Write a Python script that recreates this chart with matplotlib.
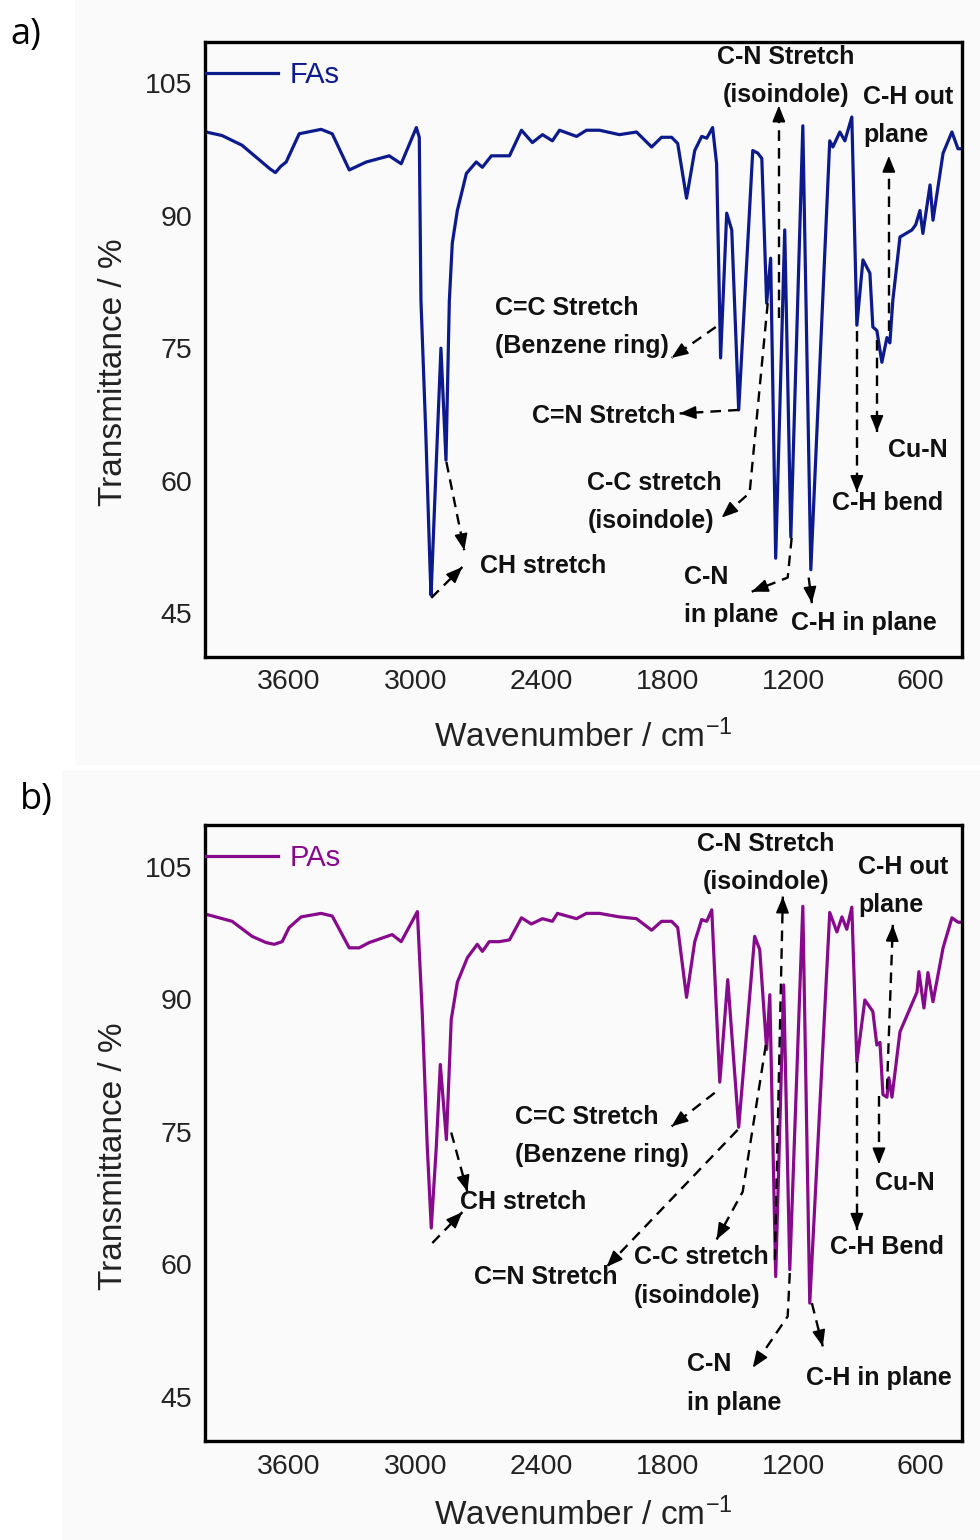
import numpy as np
import matplotlib
matplotlib.use('Agg')
import matplotlib.pyplot as plt
from matplotlib.patches import Rectangle

plt.rcParams['font.family'] = ['Liberation Sans', 'DejaVu Sans']
plt.rcParams['mathtext.default'] = 'regular'

# FTIR spectrum of FAs (wavenumber / cm-1, transmittance / %)
wn_fas = [3995, 3919, 3824, 3690, 3665, 3640, 3614, 3552, 3448, 3395, 3314, 3233, 3124, 3067,
          2995, 2981, 2973, 2950, 2930, 2925, 2901, 2878, 2854, 2838, 2824, 2800, 2757, 2710,
          2681, 2638, 2552, 2495, 2443, 2395, 2348, 2314, 2233, 2186, 2124, 2029, 1948, 1876,
          1829, 1781, 1752, 1710, 1671, 1638, 1614, 1586, 1567, 1548, 1519, 1495, 1462, 1395,
          1371, 1352, 1329, 1310, 1286, 1243, 1214, 1157, 1119, 1029, 1014, 981, 957, 924,
          900, 871, 838, 824, 805, 781, 757, 743, 729, 695, 638, 620, 600, 586, 552, 538,
          490, 448, 419, 400]
t_fas = [99.5, 99.1, 98.0, 95.3, 94.9, 95.6, 96.1, 99.3, 99.8, 99.3, 95.2, 96.1, 96.8, 95.9,
         100.0, 98.9, 80.4, 65.4, 50.2, 47.0, 61.5, 75.0, 62.3, 80.4, 86.9, 90.6, 94.8, 96.1,
         95.5, 96.8, 96.8, 99.7, 98.3, 99.2, 98.5, 99.7, 99.0, 99.7, 99.7, 99.2, 99.5, 97.8,
         98.9, 98.9, 98.2, 92.0, 97.4, 99.0, 98.8, 100.0, 95.9, 73.9, 90.3, 88.4, 68.0, 97.4,
         97.1, 96.5, 80.1, 85.2, 51.2, 88.4, 53.6, 100.2, 49.9, 98.5, 97.8, 99.5, 98.5, 101.2,
         77.6, 85.0, 83.5, 77.4, 77.0, 73.4, 76.2, 75.6, 80.4, 87.6, 88.4, 89.0, 90.6, 88.0,
         93.5, 89.5, 97.1, 99.5, 97.6, 97.6]

# FTIR spectrum of PAs
wn_pas = [3995, 3871, 3776, 3710, 3671, 3633, 3600, 3543, 3448, 3395, 3314, 3267, 3219, 3110,
          3067, 2990, 2967, 2943, 2924, 2900, 2881, 2852, 2829, 2800, 2752, 2705, 2681, 2648,
          2600, 2552, 2495, 2448, 2395, 2348, 2324, 2233, 2186, 2124, 2029, 1948, 1876, 1829,
          1781, 1752, 1710, 1671, 1638, 1614, 1590, 1552, 1514, 1462, 1386, 1362, 1329, 1314,
          1286, 1248, 1219, 1157, 1124, 1029, 995, 971, 948, 924, 900, 862, 824, 805, 790,
          776, 757, 748, 733, 695, 614, 605, 581, 562, 538, 490, 448, 419, 400]
t_pas = [99.6, 98.8, 97.1, 96.4, 96.2, 96.5, 98.1, 99.3, 99.7, 99.4, 95.8, 95.8, 96.4, 97.3,
         96.5, 99.9, 88.5, 73.3, 64.1, 73.3, 82.6, 74.1, 87.7, 91.9, 94.7, 96.2, 95.4, 96.5,
         96.5, 96.7, 99.2, 98.5, 99.1, 98.8, 99.7, 99.1, 99.7, 99.7, 99.3, 99.1, 97.8, 98.8,
         98.8, 98.1, 90.2, 96.5, 99.0, 98.8, 100.1, 80.6, 92.2, 75.5, 97.1, 95.6, 84.3, 90.5,
         58.6, 91.6, 59.4, 100.5, 55.6, 99.8, 97.6, 99.3, 97.9, 100.4, 82.9, 89.9, 88.6, 84.8, 85.1,
         79.2, 78.9, 81.1, 78.9, 86.3, 90.8, 93.1, 89.0, 93.0, 89.7, 95.8, 99.2, 98.7, 98.7]

x_ticks = [3600, 3000, 2400, 1800, 1200, 600]
y_ticks = [45, 60, 75, 90, 105]

# band assignments: text, text anchor (wn, T), alignment, arrow paths (tip last)
notes_fas = [
    ('C-N Stretch\n(isoindole)', (1238, 105.85), 'center', [[(1271, 78.4), (1271, 102.5)]]),
    ('C-H out\nplane', (871, 101.3), 'left', [[(748, 77.0), (748, 96.8)]]),
    ('Cu-N', (752, 63.5), 'left', [[(805, 75.9), (805, 65.5)]]),
    ('C-H bend', (1019, 57.5), 'left', [[(900, 77.0), (900, 58.7)]]),
    ('C-H in plane', (1214, 43.9), 'left', [[(1129, 49.0), (1114, 46.1)]]),
    ('C-N\nin plane', (1724, 46.9), 'left', [[(1210, 53.5), (1229, 49.0), (1400, 47.4)]]),
    ('C-C stretch\n(isoindole)', (2181, 57.6), 'left', [[(1324, 80.1), (1410, 58.6), (1543, 55.8)]]),
    ('C=N Stretch', (2443, 67.3), 'left', [[(1462, 68.0), (1743, 67.6)]]),
    ('C=C Stretch\n(Benzene ring)', (2619, 77.4), 'left', [[(1571, 77.4), (1781, 73.9)]]),
    ('CH stretch', (2690, 50.3), 'left', [[(2852, 62.1), (2767, 52.1)], [(2924, 46.7), (2776, 50.2)]]),
]
notes_pas = [
    ('C-N Stretch\n(isoindole)', (1333, 105.4), 'center', [[(1290, 60.5), (1252, 101.6)]]),
    ('C-H out\nplane', (895, 102.8), 'left', [[(757, 79.8), (729, 98.4)]]),
    ('Cu-N', (814, 69.2), 'left', [[(795, 79.0), (795, 71.3)]]),
    ('C-H Bend', (1029, 61.9), 'left', [[(900, 82.9), (900, 63.9)]]),
    ('C-H in plane', (1143, 47.1), 'left', [[(1114, 55.6), (1062, 50.7)]]),
    ('C-N\nin plane', (1710, 46.5), 'left', [[(1219, 59.0), (1229, 54.1), (1395, 48.3)]]),
    ('C-C stretch\n(isoindole)', (1962, 58.6), 'left', [[(1333, 84.8), (1443, 68.2), (1567, 62.8)]]),
    ('C=N Stretch', (2719, 58.5), 'left', [[(1467, 75.2), (2090, 59.7)]]),
    ('C=C Stretch\n(Benzene ring)', (2524, 74.5), 'left', [[(1576, 79.4), (1781, 75.6)]]),
    ('CH stretch', (2786, 67.0), 'left', [[(2829, 74.9), (2752, 68.2)], [(2919, 62.4), (2776, 65.9)]]),
]

fig = plt.figure(figsize=(9.8, 15.4), dpi=100)
# faint grey page behind each panel
fig.patches.append(Rectangle((75/980, 775/1540), 905/980, 765/1540, transform=fig.transFigure,
                             facecolor='#fafafa', edgecolor='none', zorder=-10))
fig.patches.append(Rectangle((62/980, 0), 918/980, 770/1540, transform=fig.transFigure,
                             facecolor='#fafafa', edgecolor='none', zorder=-10))

def arrow(ax, pts):
    xs = [p[0] for p in pts]
    ys = [p[1] for p in pts]
    ax.plot(xs, ys, color='k', lw=1.7, linestyle=(0, (4.5, 3)), zorder=3)
    a = ax.transData.transform(pts[-2])
    b = ax.transData.transform(pts[-1])
    d = (b - a) / np.hypot(*(b - a))
    ax.annotate('', xy=pts[-1], xytext=(-d[0]*6, -d[1]*6), textcoords='offset points',
                arrowprops=dict(arrowstyle='-|>,head_length=0.5,head_width=0.2', color='k',
                                lw=1.2, shrinkA=0, shrinkB=0, mutation_scale=20), zorder=4)

def panel(rect, wn, t, color, name, notes, letter, letter_xy, xlab_y):
    ax = fig.add_axes(rect)
    ax.set_facecolor('none')
    ax.plot(wn, t, color=color, lw=2.3, label=name, zorder=2)
    ax.set_xlim(4000, 400)
    ax.set_ylim(40, 109.7)
    ax.set_xticks(x_ticks)
    ax.set_yticks(y_ticks)
    ax.tick_params(length=0, labelsize=20.5, pad=9, labelcolor='#222222')
    for s in ax.spines.values():
        s.set_linewidth(2.4)
    ax.set_xlabel('Wavenumber / cm$^{-1}$', fontsize=24, color='#222222', va='center')
    ax.xaxis.set_label_coords(0.5, xlab_y)
    ax.set_ylabel('Transmittance / %', fontsize=24, color='#222222', va='center')
    ax.yaxis.set_label_coords(-0.1215, 0.463)
    leg = ax.legend(loc='center left', bbox_to_anchor=(0.0, 0.946), frameon=False, borderpad=0,
                    borderaxespad=0.05, handlelength=2.45, handletextpad=0.4, fontsize=21)
    for txt in leg.get_texts():
        txt.set_color(color)
    for text, xy, ha, paths in notes:
        ax.text(xy[0], xy[1], text, ha=ha, va='center', fontsize=18, fontweight='bold',
                linespacing=1.75, color='#111111', zorder=5)
        for p in paths:
            arrow(ax, p)
    fig.text(letter_xy[0], letter_xy[1], letter, fontsize=26, family=['Open Sans', 'DejaVu Sans'],
             ha='left', va='center')
    return ax

panel([205/980, 883/1540, 757/980, 615/1540], wn_fas, t_fas, '#0c1a8c', 'FAs', notes_fas,
      'a)', (10/980, 1 - 35/1540), -0.130)
panel([205/980, 99/1540, 757/980, 616/1540], wn_pas, t_pas, '#870a8c', 'PAs', notes_pas,
      'b)', (20/980, 1 - 800/1540), -0.120)

fig.savefig('out.png', dpi=100)
